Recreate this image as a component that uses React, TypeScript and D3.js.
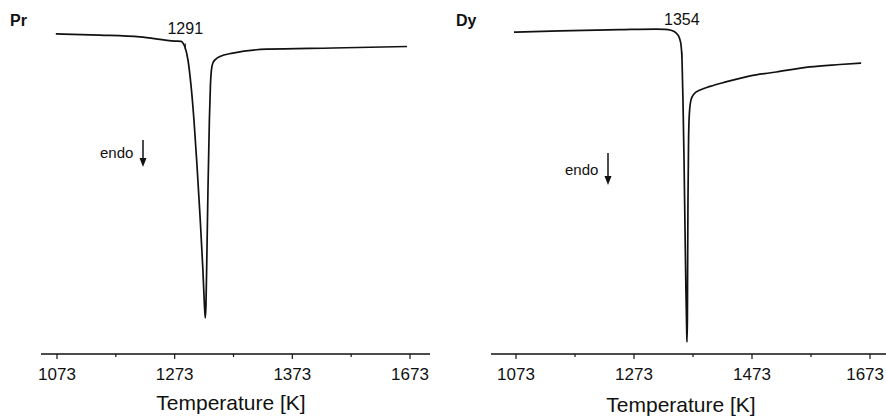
import React from "react";
import * as d3 from "d3";

// Pr DSC trace: temperature [K], heat flow (arbitrary units)
const prTemp = [1071, 1146, 1214, 1273.5, 1284, 1287, 1290.5, 1295.6, 1300.7, 1305.8, 1310.9, 1316, 1321, 1323.6, 1325, 1326.2, 1327.9, 1329.6, 1332, 1333.8, 1335.5, 1338, 1343, 1350, 1372, 1430, 1542, 1668];
const prHeat = [-1.3, -1.7, -2.3, -3.7, -3.8, -4.3, -5.7, -10, -18.3, -30, -45, -61.7, -80, -91.7, -96, -91.7, -73.3, -53.3, -30, -18.3, -13.3, -11, -9.7, -8.8, -7.7, -6.4, -6.0, -5.5];

// Dy DSC trace
const dyTemp = [1069.6, 1147.6, 1249, 1310, 1325.6, 1334, 1341, 1346, 1350, 1352.7, 1354.4, 1356, 1357.8, 1359.5, 1361, 1362.3, 1362.8, 1363.5, 1363.8, 1364.5, 1365.4, 1366.7, 1369.6, 1374.7, 1385, 1402, 1429, 1470, 1514, 1571, 1622, 1658];
const dyHeat = [-0.7, -0.3, 0.1, 0.3, 0.2, 0, -0.5, -1.3, -2.7, -5, -10, -23.3, -43.3, -66.7, -86.7, -100, -104, -96.7, -83.3, -56.7, -38.3, -28.3, -23.3, -21.3, -20, -18.8, -17.3, -15.3, -14, -12.3, -11.5, -11];

const majorTicks = [1073, 1273, 1473, 1673];
const minorTicks = [1173, 1373, 1573];
const prTickLabels = ["1073", "1273", "1373", "1673"];
const dyTickLabels = ["1073", "1273", "1473", "1673"];
const panelNames = ["Pr", "Dy"];
const onsetValues = [1291, 1354];
const xTitle = "Temperature [K]";

const FONT = "'Liberation Sans', Arial, sans-serif";

type PanelProps = {
  name: string;
  temps: number[];
  heats: number[];
  tickLabels: string[];
  onset: number;
  xr: [number, number];
  axisX: [number, number];
  nameX: number;
  titleX: number;
  titleY: number;
  endo: { tx: number; ty: number; ax: number; ay0: number; ay1: number };
  onsetLabelY: number;
};

function Panel(p: PanelProps) {
  const x = d3.scaleLinear().domain([1073, 1673]).range(p.xr);
  const y = d3.scaleLinear().domain([0, -100]).range([30, 330]);
  const pts = p.temps.map((t, i) => [t, p.heats[i]] as [number, number]);
  const line = d3
    .line<[number, number]>()
    .x((d) => x(d[0]))
    .y((d) => y(d[1]))
    .curve(d3.curveMonotoneX);
  const heatAt = d3.scaleLinear().domain(p.temps).range(p.heats);
  const onsetY = y(heatAt(p.onset));
  const axisY = 354;
  const labelFs = 17;
  const halfW = labelFs * 0.556 * 2;
  return (
    <g>
      <text x={p.nameX} y={26} fontFamily={FONT} fontWeight="bold" fontSize={16} fill="#111">
        {p.name}
      </text>
      <path d={line(pts) || ""} fill="none" stroke="#111" strokeWidth={1.7} />
      <line x1={x(p.onset)} x2={x(p.onset)} y1={onsetY - 5} y2={onsetY + 1} stroke="#111" strokeWidth={1} />
      <text x={x(p.onset)} y={p.onsetLabelY} textAnchor="middle" fontFamily={FONT} fontSize={16} fill="#111">
        {p.onset}
      </text>
      <text x={p.endo.tx} y={p.endo.ty} fontFamily={FONT} fontSize={15} fill="#111">
        endo
      </text>
      <line x1={p.endo.ax} x2={p.endo.ax} y1={p.endo.ay0} y2={p.endo.ay1 - 6} stroke="#111" strokeWidth={1.5} />
      <path
        d={`M${p.endo.ax - 3.5},${p.endo.ay1 - 9} L${p.endo.ax + 3.5},${p.endo.ay1 - 9} L${p.endo.ax},${p.endo.ay1} Z`}
        fill="#111"
      />
      <line x1={p.axisX[0]} x2={p.axisX[1]} y1={axisY} y2={axisY} stroke="#111" strokeWidth={1.3} />
      {majorTicks.map((t, i) => (
        <g key={"M" + t}>
          <line x1={x(t)} x2={x(t)} y1={axisY} y2={axisY + 5} stroke="#111" strokeWidth={1.2} />
          <text
            x={Math.min(x(t), 884 - halfW)}
            y={380}
            textAnchor="middle"
            fontFamily={FONT}
            fontSize={labelFs}
            fill="#111"
          >
            {p.tickLabels[i]}
          </text>
        </g>
      ))}
      {minorTicks.map((t) => (
        <line key={"m" + t} x1={x(t)} x2={x(t)} y1={axisY} y2={axisY + 3} stroke="#111" strokeWidth={1.2} />
      ))}
      <text x={p.titleX} y={p.titleY} textAnchor="middle" fontFamily={FONT} fontSize={21} fill="#111">
        {xTitle}
      </text>
    </g>
  );
}

export default function App() {
  return (
    <svg
      width={886}
      height={417}
      style={{ position: "absolute", left: 0, top: 0, background: "#fff" }}
    >
      <rect width={886} height={417} fill="#fff" />
      <Panel
        name={panelNames[0]}
        temps={prTemp}
        heats={prHeat}
        tickLabels={prTickLabels}
        onset={onsetValues[0]}
        xr={[57, 410]}
        axisX={[41, 430]}
        nameX={10}
        titleX={231}
        titleY={410}
        endo={{ tx: 100, ty: 158, ax: 143, ay0: 140, ay1: 167 }}
        onsetLabelY={34}
      />
      <Panel
        name={panelNames[1]}
        temps={dyTemp}
        heats={dyHeat}
        tickLabels={dyTickLabels}
        onset={onsetValues[1]}
        xr={[516, 870]}
        axisX={[491, 886]}
        nameX={456}
        titleX={681}
        titleY={412}
        endo={{ tx: 565, ty: 175, ax: 608, ay0: 153, ay1: 185 }}
        onsetLabelY={25}
      />
    </svg>
  );
}
